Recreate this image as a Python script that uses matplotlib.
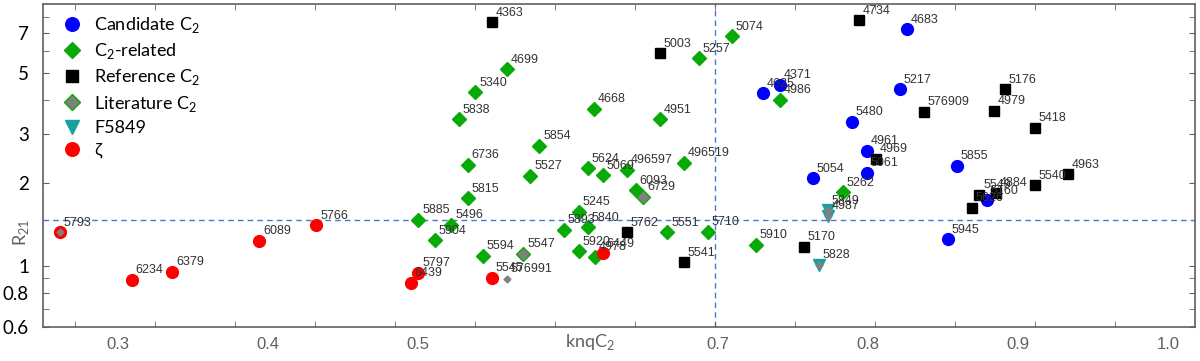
import matplotlib.pyplot as plt
import numpy as np

# Candidate C2 (blue circles)
cand_ids = ['4683', '4371', '4625', '5217', '5480', '4961', '5061', '5054', '5855', '5160', '5945']
cand_x = [0.826, 0.741, 0.730, 0.821, 0.789, 0.799, 0.799, 0.763, 0.859, 0.879, 0.853]
cand_y = [7.21, 4.52, 4.21, 4.37, 3.32, 2.61, 2.17, 2.08, 2.30, 1.73, 1.25]

# C2-related (green diamonds)
rel_ids = ['4699', '5340', '5838', '4668', '4951', '5257', '5074', '4986', '5854', '6736',
           '5527', '5624', '5069', '496597', '496519', '6093', '5815', '5245', '5885', '5496',
           '5840', '5893', '5904', '5551', '5710', '5594', '5920', '4978', '5910', '5262']
rel_x = [0.559, 0.538, 0.527, 0.617, 0.661, 0.687, 0.709, 0.741, 0.581, 0.533,
         0.575, 0.613, 0.623, 0.639, 0.677, 0.645, 0.533, 0.607, 0.500, 0.522,
         0.613, 0.597, 0.511, 0.666, 0.693, 0.543, 0.607, 0.618, 0.725, 0.783]
rel_y = [5.16, 4.26, 3.40, 3.70, 3.40, 5.66, 6.80, 3.99, 2.72, 2.32,
         2.12, 2.26, 2.13, 2.23, 2.36, 1.88, 1.76, 1.57, 1.47, 1.41,
         1.38, 1.35, 1.24, 1.32, 1.33, 1.087, 1.13, 1.078, 1.19, 1.85]

# Reference C2 (black squares)
ref_ids = ['4363', '5003', '4734', '5176', '576909', '4979', '5418', '4969', '4963', '5540',
           '4884', '5549', '5626', '5762', '5541', '5170']
ref_x = [0.549, 0.661, 0.794, 0.891, 0.837, 0.884, 0.911, 0.805, 0.933, 0.911,
         0.885, 0.874, 0.869, 0.639, 0.677, 0.757]
ref_y = [7.64, 5.90, 7.77, 4.37, 3.61, 3.64, 3.16, 2.44, 2.15, 1.96,
         1.84, 1.81, 1.62, 1.32, 1.03, 1.17]

# Literature C2 (grey diamonds)
lit_ids = ['6729', '5547']
lit_x = [0.650, 0.570]
lit_y = [1.78, 1.105]

# small grey markers (literature values on top of other points)
lit_small_ids = ['576991']
lit_small_x = [0.559, 0.261, 0.773, 0.773, 0.767]
lit_small_y = [0.897, 1.32, 1.59, 1.52, 1.01]

# F5849 (teal triangles)
f_ids = ['5849', '4987', '5828']
f_x = [0.773, 0.773, 0.767]
f_y = [1.59, 1.52, 1.01]

# zeta (red circles)
z_ids = ['5793', '6234', '6379', '6089', '5766', '5797', '6439', '5545', '6449']
z_x = [0.261, 0.309, 0.336, 0.394, 0.432, 0.500, 0.495, 0.549, 0.623]
z_y = [1.32, 0.89, 0.951, 1.23, 1.40, 0.943, 0.868, 0.905, 1.11]

x_labels = ['0.3', '0.4', '0.5', '', '0.7', '0.8', '0.9', '1.0']
y_labels = [7, 5, 3, 2, 1, 0.8, 0.6]

plt.rcParams['mathtext.fontset'] = 'custom'
plt.rcParams['mathtext.rm'] = 'Lato'

fig = plt.figure(figsize=(12, 3.61), dpi=100)
ax = fig.add_axes([43 / 1200, 1 - 327 / 361, 1152 / 1200, 323 / 361])
ax.set_yscale('log')
ax.set_xlim(0.25, 1.018)
ax.set_ylim(0.6, 8.88)

ax.axhline(1.467, color='#4a78d0', lw=1, ls=(0, (4, 3)), zorder=1)
ax.axvline(0.698, color='#4a78d0', lw=1, ls=(0, (4, 3)), zorder=1)

ax.plot(cand_x, cand_y, 'o', color='#0000ff', ms=8.5, ls='none', label='Candidate C$_2$', zorder=3)
ax.plot(rel_x, rel_y, 'D', color='#07aa07', ms=7, ls='none', label='C$_2$-related', zorder=3)
ax.plot(ref_x, ref_y, 's', color='black', ms=7.5, ls='none', label='Reference C$_2$', zorder=3)
ax.plot(lit_x, lit_y, 'D', color='#808080', mec='#07aa07', ms=7, ls='none', label='Literature C$_2$', zorder=3)
ax.plot(f_x, f_y, 'v', color='#1a9e9e', ms=9, ls='none', label='F5849', zorder=3)
ax.plot(z_x, z_y, 'o', color='#ff0000', ms=8.5, ls='none', label='ζ', zorder=3)
ax.plot(lit_small_x, lit_small_y, 'D', color='#808080', ms=3.5, ls='none', zorder=4)

groups = [(cand_ids, cand_x, cand_y), (rel_ids, rel_x, rel_y), (ref_ids, ref_x, ref_y),
          (lit_ids, lit_x, lit_y), (lit_small_ids, lit_small_x, lit_small_y),
          (f_ids, f_x, f_y), (z_ids, z_x, z_y)]
for ids, xs, ys in groups:
    for name, x, y in zip(ids, xs, ys):
        ax.annotate(name, (x, y), xytext=(3, 2.5), textcoords='offset points',
                    ha='left', va='bottom', fontsize=9, color='#333333',
                    family=['Liberation Sans', 'DejaVu Sans'], zorder=5)

# x axis: labels and tick marks do not line up in the original
ax.set_xticks(0.3 + 0.1 * np.arange(len(x_labels)))
ax.set_xticklabels(x_labels, color='#606060', fontsize=12,
                   family=['Liberation Sans Narrow', 'Liberation Sans'])
ax.tick_params(axis='x', which='major', length=0, pad=7)
ax.set_xticks(0.2713 + 0.05333 * np.arange(14), minor=True)
ax.tick_params(axis='x', which='minor', direction='in', length=4, top=True, color='#606060')

ax.set_yticks(y_labels)
ax.set_yticklabels([str(v) for v in y_labels], fontsize=13.5, family='Lato')
ax.set_yticks([8, 6, 4, 0.9, 0.7], minor=True)
ax.yaxis.set_minor_formatter(plt.NullFormatter())
ax.tick_params(axis='y', which='both', direction='in', length=4, right=True, color='#606060', pad=10)

ax.set_xlabel('knqC$_2$', fontsize=13, color='#606060', family='Lato')
ax.xaxis.set_label_coords(0.475, -0.015)
ax.set_ylabel('R$_{21}$', fontsize=13, color='#606060', family='Lato')
ax.yaxis.set_label_coords(-0.01, 0.294)

for s in ax.spines.values():
    s.set_color('#606060')
    s.set_linewidth(1.2)

ax.legend(loc='upper left', bbox_to_anchor=(0.0, 1.0), frameon=False,
          prop={'family': ['Lato', 'DejaVu Sans'], 'size': 13},
          handletextpad=0.25, labelspacing=0.35, borderaxespad=0.2, markerscale=1.15)

fig.savefig('out.png', dpi=100)
